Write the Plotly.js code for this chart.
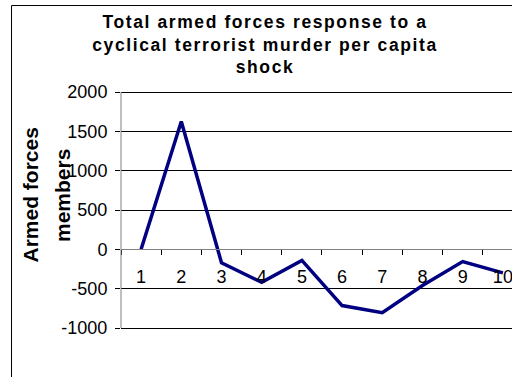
<!DOCTYPE html>
<html>
<head>
<meta charset="utf-8">
<script src="https://cdn.plot.ly/plotly-3.0.1.min.js"></script>
<style>
html, body { margin: 0; padding: 0; background: #fff; overflow: hidden; }
#chart { width: 512px; height: 377px; }
.gtitle { letter-spacing: 1.6px; }
</style>
</head>
<body>
<div id="chart"></div>
<script>
const periods = ["1", "2", "3", "4", "5", "6", "7", "8", "9", "10"];
const armedForces = [0, 1625, -170, -420, -140, -715, -805, -460, -155, -300];
const yTickValues = [-1000, -500, 0, 500, 1000, 1500, 2000];
const yTickLabels = ["-1000", "-500", "0", "500", "1000", "1500", "2000"];
const chartTitle = "Total armed forces response to a<br>cyclical terrorist murder per capita<br>shock";
const yTitleLine1 = "Armed forces";
const yTitleLine2 = "members";

const fontFamily = "'Liberation Sans', Arial, sans-serif";
const yRange = [-1025.4, 2025.4];

const trace = {
  x: periods,
  y: armedForces,
  type: "scatter",
  mode: "lines",
  line: { color: "#000080", width: 3.5 },
  hoverinfo: "x+y"
};

const layout = {
  width: 512,
  height: 377,
  margin: { l: 121, r: 0, t: 90, b: 47, pad: 0 },
  paper_bgcolor: "#ffffff",
  plot_bgcolor: "#ffffff",
  showlegend: false,
  font: { family: fontFamily, color: "#000000" },
  title: {
    text: chartTitle,
    font: { family: fontFamily, size: 17.5, weight: "bold", color: "#000000" },
    xref: "container", x: 0.5176, xanchor: "center",
    yref: "container", y: 0.926, yanchor: "top"
  },
  xaxis: {
    type: "category",
    range: [-0.5, 9.227],
    anchor: "free",
    position: (0 - yRange[0]) / (yRange[1] - yRange[0]),
    showline: true,
    linecolor: "#808080",
    linewidth: 1,
    showgrid: false,
    zeroline: false,
    ticks: "outside",
    tickson: "boundaries",
    ticklen: 5,
    tickcolor: "#000000",
    tickwidth: 1,
    ticklabelstandoff: 11,
    tickfont: { family: fontFamily, size: 18, color: "#000000" }
  },
  yaxis: {
    range: yRange,
    tickmode: "array",
    tickvals: yTickValues,
    ticktext: yTickLabels,
    showline: false,
    showgrid: true,
    gridcolor: "#000000",
    gridwidth: 1,
    zeroline: false,
    ticks: "outside",
    ticklen: 5,
    tickcolor: "#000000",
    tickwidth: 1,
    ticklabelstandoff: 4,
    tickfont: { family: fontFamily, size: 18, color: "#000000" }
  },
  annotations: [
    {
      text: yTitleLine1,
      xref: "paper", yref: "paper",
      x: -0.2315, y: 0.5625,
      xanchor: "center", yanchor: "middle",
      textangle: -90, showarrow: false,
      font: { family: fontFamily, size: 21, weight: "bold", color: "#000000" }
    },
    {
      text: yTitleLine2,
      xref: "paper", yref: "paper",
      x: -0.1496, y: 0.5604,
      xanchor: "center", yanchor: "middle",
      textangle: -90, showarrow: false,
      font: { family: fontFamily, size: 21, weight: "bold", color: "#000000" }
    }
  ],
  shapes: [
    {
      type: "rect", xref: "paper", yref: "paper",
      x0: -0.280, x1: 1.2, y0: -0.5, y1: 1.352,
      line: { color: "#000000", width: 1 },
      fillcolor: "rgba(0,0,0,0)",
      layer: "below"
    },
    {
      type: "line", xref: "paper", yref: "y",
      x0: 0, x1: 0, y0: yTickValues[0], y1: yTickValues[yTickValues.length - 1],
      line: { color: "#808080", width: 1 },
      layer: "above"
    }
  ]
};

Plotly.newPlot("chart", [trace], layout, { displayModeBar: false, staticPlot: true });
</script>
</body>
</html>
